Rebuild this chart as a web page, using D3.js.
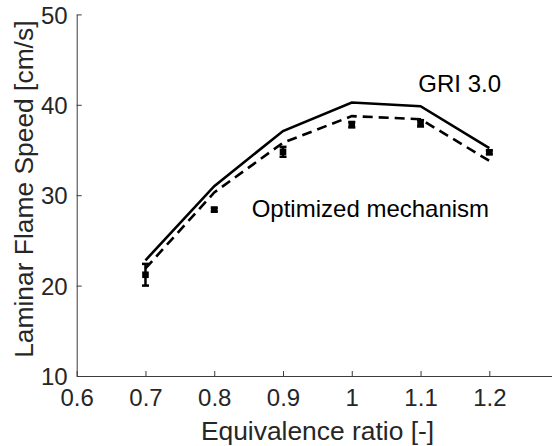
<!DOCTYPE html>
<html>
<head>
<meta charset="utf-8">
<script src="https://cdn.jsdelivr.net/npm/d3@7"></script>
<style>
  html, body { margin: 0; padding: 0; background: #fff; }
  svg { display: block; }
  text { font-family: "Liberation Sans", Arial, Helvetica, sans-serif; }
</style>
</head>
<body>
<div id="chart"></div>
<script>
// ---- data ----
const phi = [0.7, 0.8, 0.9, 1.0, 1.1, 1.2];
const gri30 = [22.8, 31.0, 37.1, 40.25, 39.85, 35.2];
const optimized = [21.9, 30.3, 35.8, 38.75, 38.4, 33.8];
const expMean = [21.2, 28.4, 34.8, 37.8, 37.95, 34.75];
const expErr = [1.2, 0.2, 0.55, 0.3, 0.35, 0.2];
const xTicks = [0.6, 0.7, 0.8, 0.9, 1.0, 1.1, 1.2];
const xTickLabels = ["0.6", "0.7", "0.8", "0.9", "1", "1.1", "1.2"];
const yTicks = [10, 20, 30, 40, 50];
const yTickLabels = ["10", "20", "30", "40", "50"];
const xTitle = "Equivalence ratio [-]";
const yTitle = "Laminar Flame Speed [cm/s]";
const labelGRI = "GRI 3.0";
const labelOpt = "Optimized mechanism";

// ---- layout ----
const W = 552, H = 446;
const mLeft = 76.7, mTop = 14.4, mBottom = 376;
const axisColor = "#3a3a3a";
const textColor = "#262626";

const svg = d3.select("#chart").append("svg")
  .attr("width", W).attr("height", H);

const x = d3.scaleLinear().domain([0.6, 1.3]).range([mLeft, mLeft + 7 * 68.77]);
const y = d3.scaleLinear().domain([10, 50]).range([mBottom, mTop]);

// axes (MATLAB style: inward ticks, left + bottom only)
const xAxis = d3.axisBottom(x).tickValues(xTicks)
  .tickFormat((d, i) => xTickLabels[i]).tickSizeInner(-5).tickSizeOuter(0).tickPadding(12);
const yAxis = d3.axisLeft(y).tickValues(yTicks)
  .tickFormat((d, i) => yTickLabels[i]).tickSizeInner(-5).tickSizeOuter(0).tickPadding(9);

const gx = svg.append("g").attr("transform", `translate(0,${mBottom})`).call(xAxis);
const gy = svg.append("g").attr("transform", `translate(${mLeft},0)`).call(yAxis);

[gx, gy].forEach(g => {
  g.select(".domain").attr("stroke", axisColor).attr("stroke-width", 1);
  g.selectAll(".tick line").attr("stroke", axisColor).attr("stroke-width", 1);
  g.selectAll(".tick text").attr("fill", textColor)
    .style("font-size", "24px").style("font-family", '"Liberation Sans", Arial, sans-serif');
});
gx.selectAll(".tick text").attr("dy", "0.71em").attr("y", 13);
gy.selectAll(".tick text").attr("dy", "0.36em");

// axis titles
svg.append("text")
  .attr("x", 317.5).attr("y", 439.5)
  .attr("text-anchor", "middle")
  .attr("fill", textColor)
  .style("font-size", "26.4px")
  .text(xTitle);

svg.append("text")
  .attr("transform", `translate(33,${(mTop + mBottom) / 2 - 6}) rotate(-90)`)
  .attr("text-anchor", "middle")
  .attr("fill", textColor)
  .style("font-size", "26.4px")
  .text(yTitle);

// lines
const line = (vals) => d3.line()
  .x((d, i) => x(phi[i]))
  .y(d => y(d))(vals);

svg.append("path")
  .attr("d", line(gri30))
  .attr("fill", "none").attr("stroke", "#000").attr("stroke-width", 2.6)
  .attr("stroke-linejoin", "miter");

svg.append("path")
  .attr("d", line(optimized))
  .attr("fill", "none").attr("stroke", "#000").attr("stroke-width", 2.6)
  .attr("stroke-dasharray", "10,6");

// experimental points with error bars
const exp = svg.append("g");
phi.forEach((p, i) => {
  const cx = x(p);
  const y0 = y(expMean[i] - expErr[i]);
  const y1 = y(expMean[i] + expErr[i]);
  exp.append("line").attr("x1", cx).attr("x2", cx).attr("y1", y0).attr("y2", y1)
    .attr("stroke", "#000").attr("stroke-width", 2.5);
  [y0, y1].forEach(yy => exp.append("line")
    .attr("x1", cx - 3.5).attr("x2", cx + 3.5).attr("y1", yy).attr("y2", yy)
    .attr("stroke", "#000").attr("stroke-width", 2.5));
  exp.append("rect")
    .attr("x", cx - 3.3).attr("y", y(expMean[i]) - 3.3)
    .attr("width", 6.6).attr("height", 6.6).attr("fill", "#000");
});

// annotations
svg.append("text").attr("x", 418.3).attr("y", 91.7)
  .attr("fill", "#000").style("font-size", "24px").text(labelGRI);
svg.append("text").attr("x", 251.7).attr("y", 217)
  .attr("fill", "#000").style("font-size", "24px").text(labelOpt);
</script>
</body>
</html>
